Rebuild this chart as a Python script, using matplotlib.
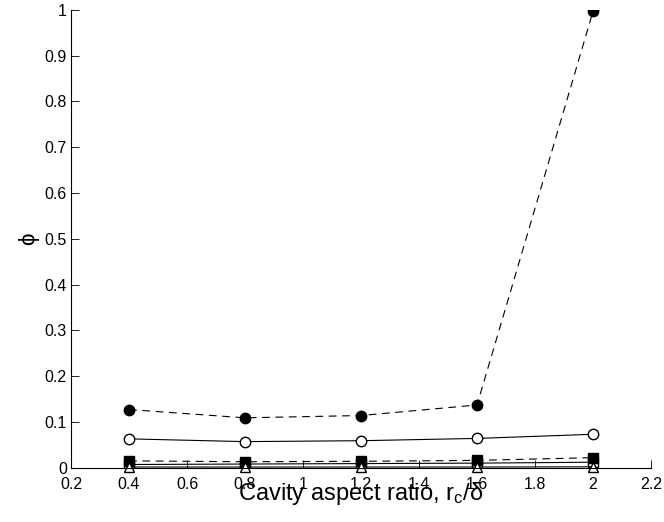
import numpy as np
import matplotlib.pyplot as plt

plt.rcParams['font.family'] = ['Liberation Sans', 'DejaVu Sans']
plt.rcParams['mathtext.default'] = 'regular'

# aspect ratio r_c/delta
ratio = [0.4, 0.8, 1.2, 1.6, 2.0]

# phi for each case
phi_filled_circle = [0.127, 0.109, 0.114, 0.137, 0.997]
phi_open_circle = [0.063, 0.057, 0.059, 0.064, 0.073]
phi_open_square = [0.007, 0.008, 0.009, 0.010, 0.012]
phi_filled_square = [0.015, 0.013, 0.014, 0.016, 0.022]
phi_open_triangle = [0.0015, 0.0015, 0.0015, 0.0015, 0.002]

fig = plt.figure(figsize=(6.64, 5.22), dpi=100)
ax = fig.add_axes([0.107, 0.104, 0.8735, 0.877])

dash = (0, (7, 5))
ax.plot(ratio, phi_filled_circle, color='black', ls=dash, lw=0.8,
        marker='o', ms=7.5, mfc='black', mec='black')
ax.plot(ratio, phi_open_circle, color='black', ls='-', lw=0.8,
        marker='o', ms=7.5, mfc='white', mec='black')
ax.plot(ratio, phi_open_square, color='black', ls='-', lw=0.8,
        marker='s', ms=6.5, mfc='white', mec='black')
ax.plot(ratio, phi_filled_square, color='black', ls=dash, lw=0.8,
        marker='s', ms=6.5, mfc='black', mec='black')
ax.plot(ratio, phi_open_triangle, color='black', ls='-', lw=0.8,
        marker='^', ms=6.5, mfc='white', mec='black', clip_on=False)

ax.set_xlim(0.2, 2.2)
ax.set_ylim(0, 1)
ax.set_xticks(np.arange(0.2, 2.21, 0.2))
ax.set_xticklabels(['0.2', '0.4', '0.6', '0.8', '1', '1.2', '1.4', '1.6', '1.8', '2', '2.2'])
ax.set_yticks(np.arange(0, 1.01, 0.1))
ax.set_yticklabels(['0', '0.1', '0.2', '0.3', '0.4', '0.5', '0.6', '0.7', '0.8', '0.9', '1'])

ax.spines['top'].set_visible(False)
ax.spines['right'].set_visible(False)
ax.tick_params(direction='in', length=6, width=0.6, labelsize=11.5, pad=3)
ax.tick_params(axis='x', pad=6.5)

ax.set_xlabel('Cavity aspect ratio, r$_c$/δ', fontsize=17)
ax.xaxis.set_label_coords(0.5, -0.026, transform=ax.transAxes)
ax.xaxis.label.set_va('top')
ax.set_ylabel('ϕ', fontsize=16, labelpad=4)

fig.savefig('out.png', dpi=100)
